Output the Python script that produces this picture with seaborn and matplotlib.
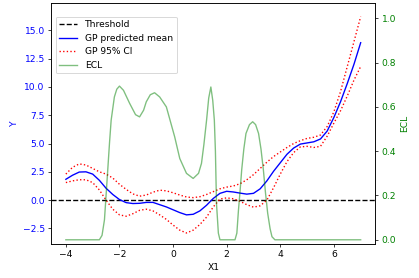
import numpy as np
import pandas as pd
import matplotlib
matplotlib.use("Agg")
import matplotlib.pyplot as plt
import seaborn as sns

# GP values (step 0.25 from -4 to 7)
x_grid = [-4.0, -3.75, -3.5, -3.25, -3.0, -2.75, -2.5, -2.25, -2.0, -1.75, -1.5,
          -1.25, -1.0, -0.75, -0.5, -0.25, 0.0, 0.25, 0.5, 0.75, 1.0, 1.25, 1.5,
          1.75, 2.0, 2.25, 2.5, 2.75, 3.0, 3.25, 3.5, 3.75, 4.0, 4.25, 4.5, 4.75,
          5.0, 5.25, 5.5, 5.75, 6.0, 6.25, 6.5, 6.75, 7.0]
gp_mean = [1.84, 2.2, 2.48, 2.5, 2.3, 1.75, 1.05, 0.5, 0.05, -0.22, -0.3,
           -0.28, -0.2, -0.2, -0.4, -0.6, -0.85, -1.1, -1.3, -1.25, -0.95, -0.45, 0.15,
           0.6, 0.78, 0.72, 0.62, 0.53, 0.6, 1.0, 1.7, 2.55, 3.3, 4.05, 4.6, 4.95,
           5.05, 5.15, 5.4, 6.1, 7.3, 8.7, 10.3, 12.0, 13.9]
ci_upper = [2.3, 2.9, 3.2, 3.1, 2.8, 2.5, 2.3, 1.95, 1.4, 0.95, 0.55,
            0.35, 0.45, 0.7, 0.88, 0.82, 0.65, 0.45, 0.28, 0.22, 0.3, 0.5, 0.75,
            1.0, 1.15, 1.25, 1.45, 1.8, 2.25, 2.8, 3.35, 3.85, 4.25, 4.65, 5.0, 5.25,
            5.45, 5.55, 5.75, 6.5, 7.8, 9.6, 11.8, 14.0, 16.2]
ci_lower = [1.55, 1.7, 1.8, 1.8, 1.55, 0.9, 0.0, -0.8, -1.3, -1.42, -1.2,
            -0.9, -0.8, -0.95, -1.3, -1.7, -2.2, -2.65, -2.9, -2.65, -2.15, -1.5, -0.6,
            0.1, 0.2, 0.12, -0.1, -0.4, -0.62, -0.5, 0.0, 1.1, 2.3, 3.4, 4.2, 4.7,
            4.75, 4.65, 4.75, 5.65, 6.8, 7.9, 9.2, 10.6, 11.8]
threshold = 0.0

# ECL curve (right axis)
ecl_x = [-4.0, -2.75, -2.65, -2.56, -2.5, -2.44, -2.37, -2.31, -2.19, -2.1, -2.0,
         -1.85, -1.62, -1.4, -1.25, -1.1, -1.0, -0.85, -0.69, -0.5, -0.25, 0.06,
         0.25, 0.5, 0.75, 0.95, 1.06, 1.15, 1.25, 1.33, 1.41, 1.48, 1.54, 1.58,
         1.62, 1.69, 1.75, 2.31, 2.38, 2.44, 2.5, 2.56, 2.64, 2.72, 2.85, 2.97,
         3.08, 3.19, 3.28, 3.37, 3.45, 3.53, 3.62, 3.69, 3.8, 7.0]
ecl_y = [0.0, 0.0, 0.02, 0.09, 0.2, 0.31, 0.44, 0.54, 0.645, 0.68, 0.694,
         0.675, 0.616, 0.565, 0.555, 0.585, 0.623, 0.655, 0.664, 0.645, 0.6, 0.465,
         0.367, 0.30, 0.277, 0.3, 0.345, 0.43, 0.54, 0.64, 0.69, 0.63, 0.54, 0.4,
         0.164, 0.03, 0.0, 0.0, 0.03, 0.134, 0.22, 0.315, 0.41, 0.48, 0.52, 0.533,
         0.52, 0.48, 0.41, 0.315, 0.21, 0.12, 0.05, 0.014, 0.0, 0.0]

gp = pd.DataFrame({"X1": x_grid, "mean": gp_mean, "upper": ci_upper, "lower": ci_lower})
ecl = pd.DataFrame({"X1": ecl_x, "ECL": ecl_y})

dpi = 65.5
fig = plt.figure(figsize=(419 / dpi, 278 / dpi), dpi=dpi)
ax1 = fig.add_subplot()
fig.subplots_adjust(left=0.122, right=0.896, top=0.989, bottom=0.122)

h_thr = ax1.axhline(threshold, color="k", linestyle="--", label="Threshold")
sns.lineplot(data=gp, x="X1", y="mean", ax=ax1, color="b", legend=False)
sns.lineplot(data=gp, x="X1", y="upper", ax=ax1, color="r", linestyle=":", legend=False)
sns.lineplot(data=gp, x="X1", y="lower", ax=ax1, color="r", linestyle=":", legend=False)
h_mean, h_ci = ax1.lines[1], ax1.lines[2]
ax1.set_ylim(-3.88, 17.4)
ax1.set_xlabel("X1")
ax1.set_ylabel("Y", color="b")
ax1.tick_params(axis="y", labelcolor="b")

ax2 = ax1.twinx()
sns.lineplot(data=ecl, x="X1", y="ECL", ax=ax2, color="g", alpha=0.5, legend=False)
h_ecl = ax2.lines[0]
ax2.set_ylim(-0.0194, 1.069)
ax2.set_ylabel("ECL", color="g")
ax2.tick_params(axis="y", labelcolor="g")

ax2.legend([h_thr, h_mean, h_ci, h_ecl],
           ["Threshold", "GP predicted mean", "GP 95% CI", "ECL"],
           loc="upper left", bbox_to_anchor=(0.0, 0.963))

fig.savefig("out.png", dpi=dpi)
